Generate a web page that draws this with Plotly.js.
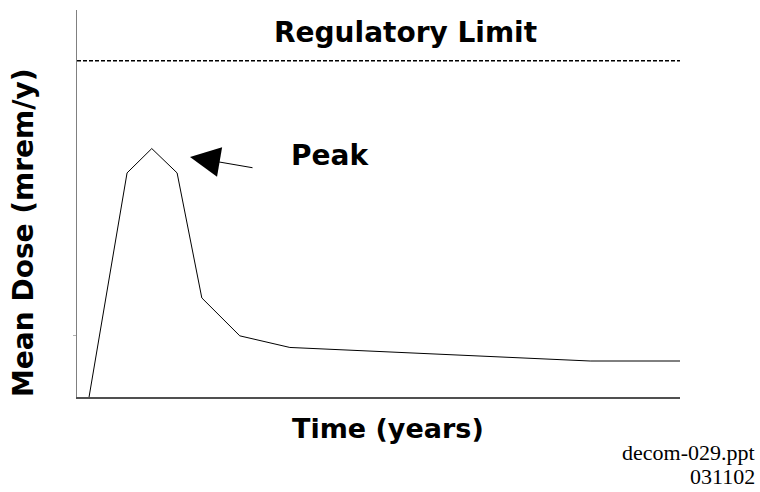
<!DOCTYPE html>
<html>
<head>
<meta charset="utf-8">
<script src="https://cdn.plot.ly/plotly-3.0.1.min.js"></script>
<style>
  html, body { margin: 0; padding: 0; background: #ffffff; }
  #chart { width: 760px; height: 492px; }
</style>
</head>
<body>
<div id="chart"></div>
<script>
// Data (arbitrary, unlabeled units)
const timeYears = [2.0, 8.3, 12.4, 16.6, 20.7, 27.0, 35.3, 85.1, 100];
const meanDose  = [0, 57.9, 64.2, 57.9, 25.6, 15.8, 12.8, 9.3, 9.3];
const limitX = [0, 100];
const limitDose = [86.9, 86.9];
const yTickVals = [15.8];

const titleText = 'Regulatory Limit';
const xTitle = 'Time (years)';
const yTitle = 'Mean Dose (mrem/y)';
const peakLabel = 'Peak';
const footLines = ['decom-029.ppt', '031102'];

const boldFont = {family: '"DejaVu Sans", "Liberation Sans", Arial, sans-serif', size: 28, color: '#000000', weight: 'bold'};
const serifFont = {family: '"Liberation Serif", "Times New Roman", serif', size: 22, color: '#000000'};

const traces = [
  {
    x: timeYears, y: meanDose, type: 'scatter', mode: 'lines',
    line: {color: '#000000', width: 1},
    hoverinfo: 'skip', showlegend: false
  },
  {
    x: limitX, y: limitDose, type: 'scatter', mode: 'lines',
    line: {color: '#000000', width: 1.5, dash: '4px,2px'},
    hoverinfo: 'skip', showlegend: false
  }
];

const layout = {
  width: 760, height: 492,
  margin: {l: 77, r: 80, t: 10, b: 95, pad: 0},
  paper_bgcolor: '#ffffff', plot_bgcolor: '#ffffff',
  showlegend: false,
  xaxis: {
    range: [0, 100], showgrid: false, zeroline: false,
    showline: true, linecolor: '#505050', linewidth: 1.5,
    ticks: '', showticklabels: false, fixedrange: true
  },
  yaxis: {
    range: [0, 100], showgrid: false, zeroline: false,
    showline: true, linecolor: '#808080', linewidth: 1.5,
    tickmode: 'array', tickvals: yTickVals, ticks: 'outside', ticklen: 3,
    tickcolor: '#b0b0b0', tickwidth: 1,
    showticklabels: false, fixedrange: true
  },
  annotations: [
    {text: titleText, xref: 'paper', yref: 'paper', x: 0.5456, y: 0.9406,
     xanchor: 'center', yanchor: 'middle', showarrow: false, font: boldFont},
    {text: peakLabel, xref: 'paper', yref: 'paper', x: 0.4196, y: 0.6253,
     xanchor: 'center', yanchor: 'middle', showarrow: false, font: boldFont},
    {text: '', xref: 'paper', yref: 'paper', x: 0.1874, y: 0.6202,
     showarrow: true, ax: 64, ay: 11, arrowhead: 2, arrowsize: 6,
     arrowwidth: 1, arrowcolor: '#000000', standoff: 0},
    {text: yTitle, xref: 'paper', yref: 'paper', x: (23 - 77) / 603, y: (397 - 233) / 387,
     xanchor: 'center', yanchor: 'middle', textangle: -90, showarrow: false, font: boldFont},
    {text: xTitle, xref: 'paper', yref: 'paper', x: 0.5158, y: -0.0809,
     xanchor: 'center', yanchor: 'middle', showarrow: false,
     font: Object.assign({}, boldFont, {size: 27})},
    {text: footLines[0], xref: 'paper', yref: 'paper', x: (757 - 77) / 603, y: (397 - 452) / 387,
     xanchor: 'right', yanchor: 'middle', showarrow: false, font: serifFont},
    {text: footLines[1], xref: 'paper', yref: 'paper', x: (757 - 77) / 603, y: (397 - 476) / 387,
     xanchor: 'right', yanchor: 'middle', showarrow: false, font: serifFont}
  ]
};

Plotly.newPlot('chart', traces, layout, {staticPlot: true, displayModeBar: false});
</script>
</body>
</html>
